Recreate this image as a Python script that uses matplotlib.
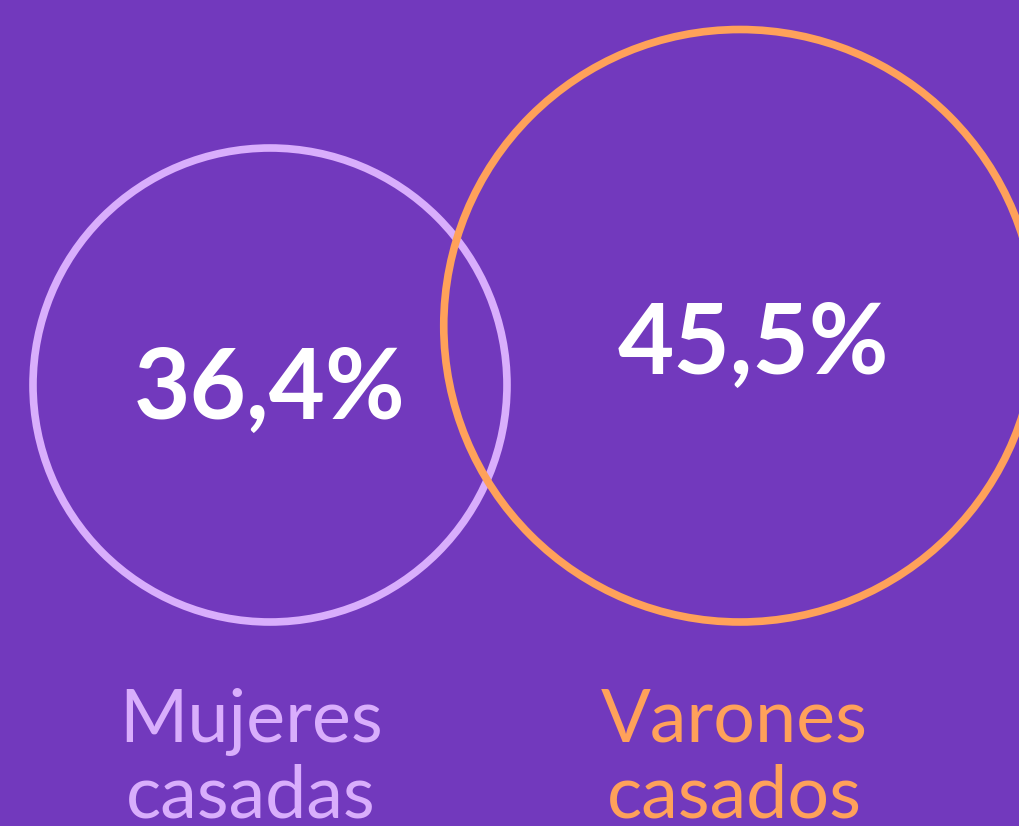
import matplotlib
matplotlib.use("Agg")
import matplotlib.pyplot as plt
from matplotlib.patches import Circle

# datos
valores = [36.4, 45.5]
etiquetas_valor = ["36,4%", "45,5%"]
etiquetas = [["Mujeres", "casadas"], ["Varones", "casados"]]
colores = ["#D9AEFC", "#FFA15A"]

fondo = "#7239BD"

W, H = 1019, 826
fig = plt.figure(figsize=(W / 100, H / 100), dpi=100, facecolor=fondo)
ax = fig.add_axes([0, 0, 1, 1])
ax.set_xlim(0, W)
ax.set_ylim(H, 0)
ax.set_aspect("equal")
ax.axis("off")
ax.set_facecolor(fondo)

# radio proporcional al valor
escala = 237 / valores[0]
centros_x = [270, 740]
fondo_y = 622  # base comun de los circulos

for i, v in enumerate(valores):
    r = v * escala
    cy = fondo_y - r
    ax.add_patch(Circle((centros_x[i], cy), r, fill=False,
                        edgecolor=colores[i], linewidth=5.5, zorder=2))

# textos de porcentaje
pos_num = [(270, 390), (753, 345)]
for (x, y), t in zip(pos_num, etiquetas_valor):
    ax.text(x, y, t, color="white", fontsize=70, fontweight="bold",
            family="Lato", ha="center", va="center", zorder=3)

# etiquetas inferiores, una linea cada vez
pos_lab = [251, 734]
lineas_y = [742, 818]
for x, lineas, c in zip(pos_lab, etiquetas, colores):
    for y, t in zip(lineas_y, lineas):
        ax.text(x, y, t, color=c, fontsize=53, fontweight="normal",
                family="Lato", ha="center", va="baseline", zorder=3)

fig.savefig("out.png", dpi=100, facecolor=fondo)
